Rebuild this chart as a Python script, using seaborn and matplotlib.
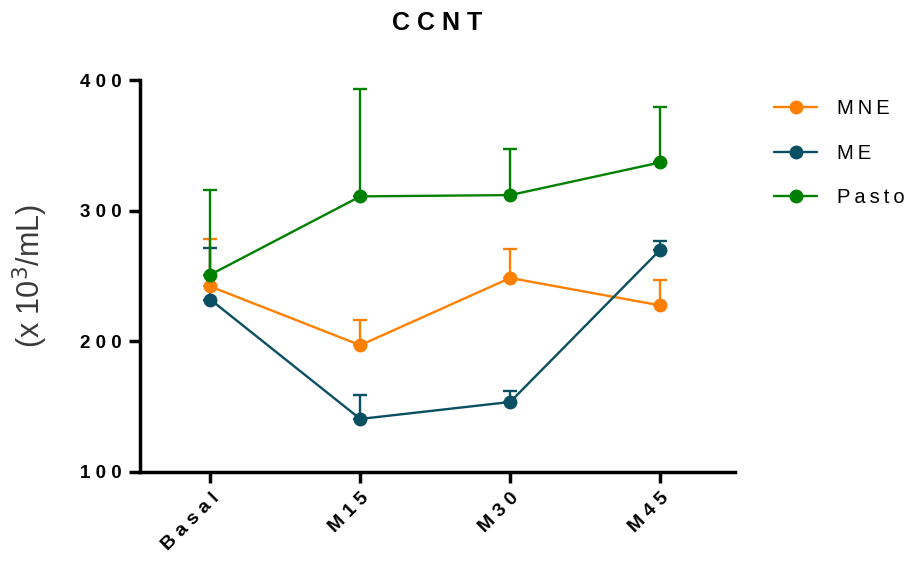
import matplotlib
matplotlib.use("Agg")
import matplotlib.pyplot as plt
import seaborn as sns
import pandas as pd
import numpy as np
from matplotlib.lines import Line2D

categories = ["Basal", "M15", "M30", "M45"]
series_names = ["MNE", "ME", "Pasto"]
mne_mean = [242, 197, 248.5, 227.5]
mne_err = [36, 19.5, 22, 19.5]
me_mean = [232, 140.5, 153.5, 270]
me_err = [39.5, 18.5, 8.5, 7]
pasto_mean = [251, 311, 312, 337]
pasto_err = [65, 82, 35.5, 42.5]
yticks = [100, 200, 300, 400]

colors = {"MNE": "#FF8000", "ME": "#0A4F62", "Pasto": "#008000"}
means = {"MNE": mne_mean, "ME": me_mean, "Pasto": pasto_mean}
errs = {"MNE": mne_err, "ME": me_err, "Pasto": pasto_err}

def spaced(s, sep=" "):
    return sep.join(s)

sns.set_style("ticks")
plt.rcParams["font.family"] = ["Liberation Sans", "DejaVu Sans"]
plt.rcParams["text.color"] = "black"
plt.rcParams["xtick.color"] = "black"
plt.rcParams["ytick.color"] = "black"
plt.rcParams["axes.edgecolor"] = "black"

rows = []
for name in series_names:
    for i, c in enumerate(categories):
        rows.append({"x": i, "cat": c, "value": means[name][i], "series": name})
df = pd.DataFrame(rows)

fig = plt.figure(figsize=(9.2, 5.61), dpi=100)
ax = fig.add_axes([0.152, 0.159, 0.647, 0.698])

sns.lineplot(data=df, x="x", y="value", hue="series", hue_order=series_names,
             palette=colors, marker="o", markersize=10, markeredgewidth=0,
             linewidth=1.7, ax=ax, legend=False)

for name in series_names:
    x = np.arange(len(categories))
    ax.errorbar(x, means[name], yerr=[np.zeros(len(categories)), errs[name]],
                fmt="none", ecolor=colors[name], elinewidth=1.7, capsize=5,
                capthick=1.7, zorder=1)

ax.set_xlim(-0.47, 3.5)
ax.set_ylim(100, 400)
ax.set_yticks(yticks)
ax.set_yticklabels([spaced(str(t)) for t in yticks], fontsize=13.5, fontweight="bold")
ax.set_xticks(range(len(categories)))
ax.set_xticklabels([spaced(c) for c in categories], fontsize=14, fontweight="bold",
                   rotation=45, ha="right", rotation_mode="anchor")
ax.tick_params(axis="both", width=2.5, length=8, color="black", pad=5)
for s in ["left", "bottom"]:
    ax.spines[s].set_linewidth(2.5)
for s in ["top", "right"]:
    ax.spines[s].set_visible(False)
ax.set_xlabel("")
ax.set_ylabel("(x 10$^3$/mL)", fontsize=22, color="#3a3a3a", labelpad=22)

ax.set_title(spaced("CCNT"), fontsize=18, fontweight="bold", pad=36)

handles = [Line2D([0], [0], color=colors[n], marker="o", markersize=10,
                  markeredgewidth=0, linewidth=1.7) for n in series_names]
fig.legend(handles, [spaced(n, "\u2009") for n in series_names], loc="upper left",
           bbox_to_anchor=(0.822, 0.855), frameon=False, fontsize=14.5,
           handlelength=2.1, labelspacing=1.25, handletextpad=1.0)

fig.savefig("out.png", dpi=100)
